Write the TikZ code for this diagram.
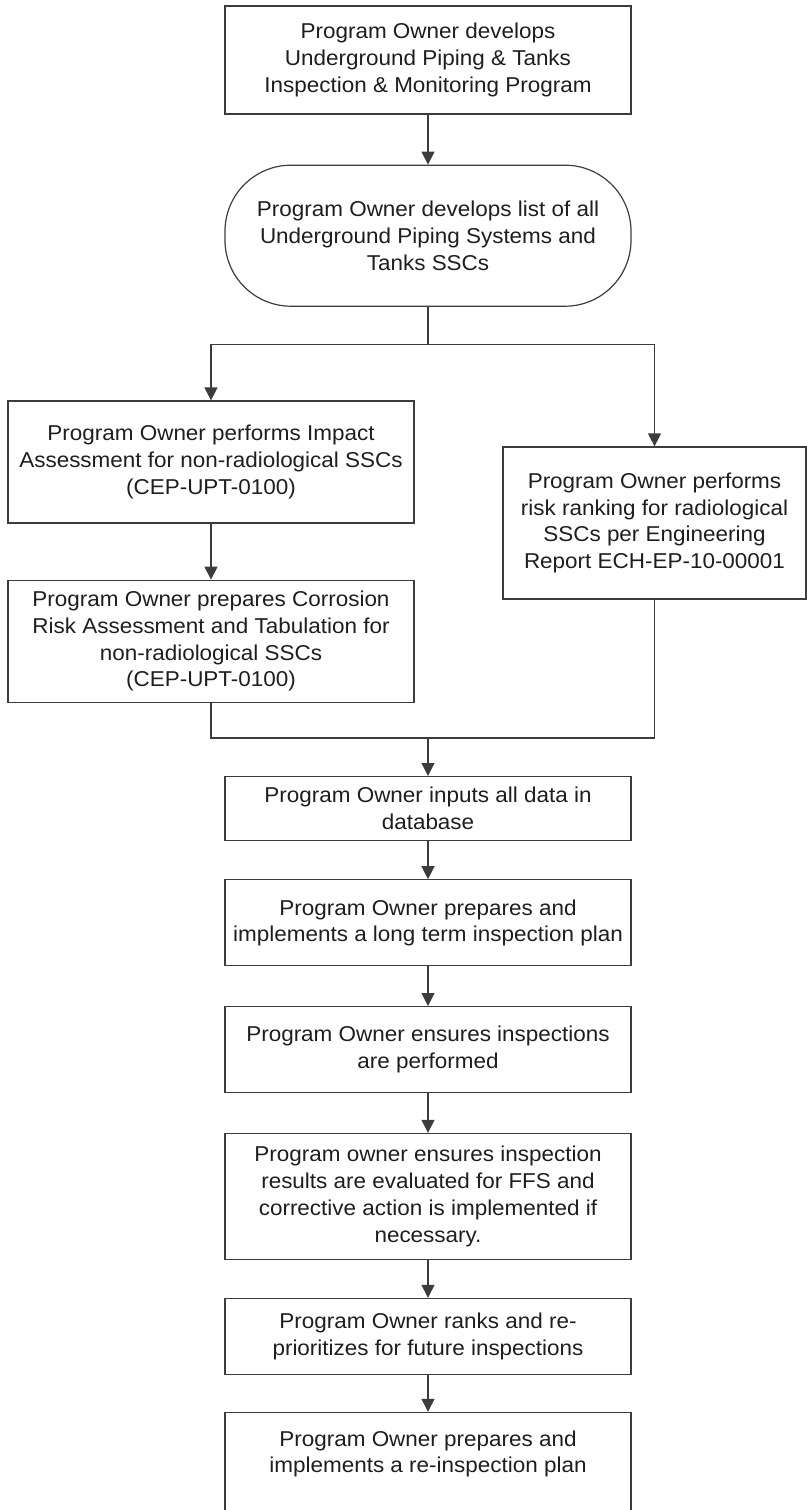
\documentclass[tikz,border=0pt]{standalone}
\usepackage{fontspec}
\setmainfont[FakeStretch=1.045]{Liberation Sans}
\usetikzlibrary{positioning,arrows.meta}
\definecolor{flowline}{HTML}{3C3C3C}
\definecolor{flowtext}{HTML}{1E1E1E}

\begin{document}
\begin{tikzpicture}[
  x=1pt, y=1pt,
  font=\fontsize{10.75}{13.35}\selectfont,
  >={Triangle[length=6.5pt,width=6.5pt]},
  box/.style={
    draw=flowline, line width=0.6pt,
    text=flowtext, align=center,
    minimum width=203pt, inner sep=2pt
  },
  link/.style={draw=flowline, line width=0.6pt}
]
\useasboundingbox (0,0) rectangle (403.5,-755);

\node[box, minimum height=54pt] (prog) at (214,-30) {
  Program Owner develops\\
  Underground Piping \& Tanks\\
  Inspection \& Monitoring Program
};

\node[box, rounded corners=33pt, minimum height=70.5pt, below=25pt of prog] (list) {
  Program Owner develops list of all\\
  Underground Piping Systems and\\
  Tanks SSCs
};

% left branch
\node[box, minimum height=61pt] (impact) at (105.5,-231) {
  Program Owner performs Impact\\
  Assessment for non-radiological SSCs\\
  (CEP-UPT-0100)
};

\node[box, minimum height=61pt, below=28pt of impact] (corrosion) {
  Program Owner prepares Corrosion\\
  Risk Assessment and Tabulation for\\
  non-radiological SSCs\\
  (CEP-UPT-0100)
};

% right branch
\node[box, minimum width=151.5pt, minimum height=76pt] (radrank) at (327.25,-261.5) {
  Program Owner performs\\
  risk ranking for radiological\\
  SSCs per Engineering\\
  Report ECH-EP-10-00001
};

\coordinate[below=19pt of list] (split);
\coordinate (join) at (214,-369);

\node[box, minimum height=32pt, below=19pt of join] (inputs) {
  Program Owner inputs all data in\\
  database
};

\node[box, minimum height=43pt, below=19pt of inputs] (plan) {
  Program Owner prepares and\\
  implements a long term inspection plan
};

\node[box, minimum height=43pt, below=19.8pt of plan] (ensure) {
  Program Owner ensures inspections\\
  are performed
};

\node[box, minimum height=63pt, below=19.8pt of ensure] (evaluate) {
  Program owner ensures inspection\\
  results are evaluated for FFS and\\
  corrective action is implemented if\\
  necessary.
};

\node[box, minimum height=38pt, below=18.9pt of evaluate] (ranks) {
  Program Owner ranks and re-\\
  prioritizes for future inspections
};

\node[box, inner ysep=0pt, text height=30.25pt, text depth=80pt, below=18.4pt of ranks] (reinspect) {
  Program Owner prepares and\\
  implements a re-inspection plan
};

\draw[link, ->] (prog) -- (list);
\draw[link] (list) -- (split);
\draw[link, ->] (split) -| (impact);
\draw[link, ->] (split) -| (radrank);
\draw[link, ->] (impact) -- (corrosion);
\draw[link] (corrosion) |- (join) -| (radrank);
\draw[link, ->] (join) -- (inputs);
\draw[link, ->] (inputs) -- (plan);
\draw[link, ->] (plan) -- (ensure);
\draw[link, ->] (ensure) -- (evaluate);
\draw[link, ->] (evaluate) -- (ranks);
\draw[link, ->] (ranks) -- (reinspect);

\end{tikzpicture}
\end{document}
